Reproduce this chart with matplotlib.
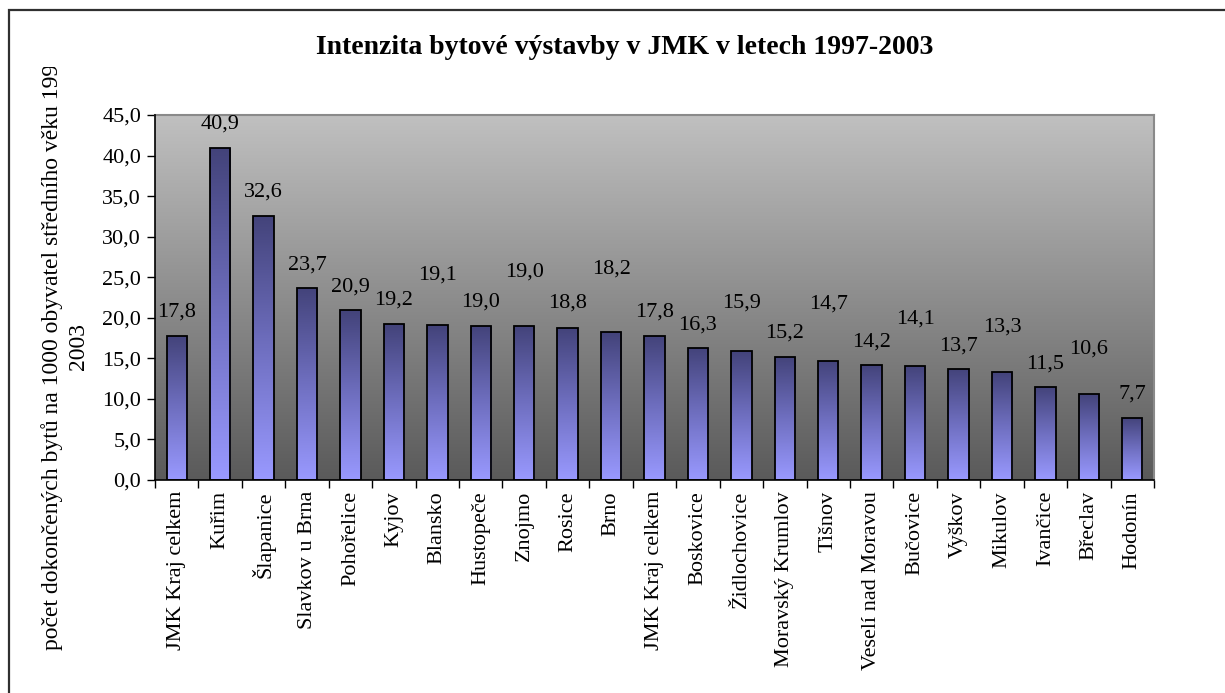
import numpy as np
import matplotlib
matplotlib.use("Agg")
import matplotlib.pyplot as plt
from matplotlib.colors import LinearSegmentedColormap
from matplotlib.patches import Rectangle
from matplotlib.ticker import FuncFormatter, MultipleLocator

categories = ["JMK Kraj celkem", "Kuřim", "Šlapanice", "Slavkov u Brna", "Pohořelice",
              "Kyjov", "Blansko", "Hustopeče", "Znojmo", "Rosice", "Brno",
              "JMK Kraj celkem", "Boskovice", "Židlochovice", "Moravský Krumlov",
              "Tišnov", "Veselí nad Moravou", "Bučovice", "Vyškov", "Mikulov",
              "Ivančice", "Břeclav", "Hodonín"]
values = [17.8, 40.9, 32.6, 23.7, 20.9, 19.2, 19.1, 19.0, 19.0, 18.8, 18.2,
          17.8, 16.3, 15.9, 15.2, 14.7, 14.2, 14.1, 13.7, 13.3, 11.5, 10.6, 7.7]
title = "Intenzita bytové výstavby v JMK v letech 1997-2003"
ylabel = "počet dokončených bytů na 1000 obyvatel středního věku 1997-\n2003"

# label offset above bar top (pixels) - layout only
label_offsets_px = [24, 24, 24, 23, 23, 24, 50, 24, 54, 24, 63,
                    24, 23, 48, 24, 57, 23, 47, 23, 45, 23, 45, 23]

plt.rcParams['font.family'] = ['Liberation Serif', 'DejaVu Serif']

W, H = 1225, 693
FS = 16
fig = plt.figure(figsize=(W / 100, H / 100), dpi=100)

# outer frame (extends beyond the visible image)
fig.patches.append(Rectangle((9 / W, -0.1), 1.2, (H - 10) / H + 0.1, transform=fig.transFigure,
                             fill=False, edgecolor="#303030", linewidth=1.6, clip_on=False))

ax = fig.add_axes([155 / W, 1 - 480 / H, (1154 - 155) / W, (480 - 115) / H])

x = np.arange(len(categories))

# background gradient
bg_cmap = LinearSegmentedColormap.from_list("bg", ["#5a5a5a", "#c0c0c0"])
grad = np.linspace(0, 1, 256).reshape(-1, 1)
ax.imshow(grad, cmap=bg_cmap, origin="lower", aspect="auto",
          extent=(-0.5, len(categories) - 0.5, 0, 45), zorder=0)

bars = ax.bar(x, values, width=0.47, facecolor="none", edgecolor="black",
              linewidth=1.3, zorder=3)
bar_cmap = LinearSegmentedColormap.from_list("bar", ["#9999ff", "#6f6fc0", "#43437a"])
for b in bars:
    bx, bw, bh = b.get_x(), b.get_width(), b.get_height()
    im = ax.imshow(grad, cmap=bar_cmap, origin="lower", aspect="auto",
                   extent=(bx, bx + bw, 0, bh), zorder=2)
    im.set_clip_path(b)

ax.set_xlim(-0.5, len(categories) - 0.5)
ax.set_ylim(0, 45)

for b, v, off in zip(bars, values, label_offsets_px):
    ax.annotate(f"{v:.1f}".replace(".", ","),
                (b.get_x() + b.get_width() / 2, b.get_height()),
                xytext=(0, off * 0.72), textcoords="offset points",
                ha="center", va="center", fontsize=FS, color="black", zorder=5)

ax.yaxis.set_major_locator(MultipleLocator(5))
ax.yaxis.set_major_formatter(FuncFormatter(lambda v, p: f"{v:.1f}".replace(".", ",")))
ax.tick_params(axis="y", direction="out", length=6, width=1, labelsize=FS, pad=4)

ax.set_xticks(x)
ax.set_xticklabels(categories, rotation=90, fontsize=FS, va="top", ha="center")
ax.tick_params(axis="x", which="major", length=0, pad=8)
ax.set_xticks(np.arange(-0.5, len(categories), 1), minor=True)
ax.tick_params(axis="x", which="minor", direction="out", length=6, width=1)

for s in ["top", "right"]:
    ax.spines[s].set_color("#8a8a8a")
    ax.spines[s].set_linewidth(1.5)
for s in ["left", "bottom"]:
    ax.spines[s].set_color("black")
    ax.spines[s].set_linewidth(1.2)
ax.spines["left"].set_zorder(6)
ax.spines["bottom"].set_zorder(6)

fig.text(625 / W, 1 - 47 / H, title, ha="center", va="center",
         fontsize=20, fontweight="bold")
yl = fig.text(65 / W, 1 - 347 / H, ylabel, ha="center", va="center", rotation=90,
              fontsize=17, multialignment="center", linespacing=1.3)
clip = Rectangle((0, 0), 1, 1 - 67 / H, transform=fig.transFigure, visible=False)
fig.patches.append(clip)
yl.set_clip_path(clip)
yl.set_clip_on(True)

fig.savefig("out.png", dpi=100)
